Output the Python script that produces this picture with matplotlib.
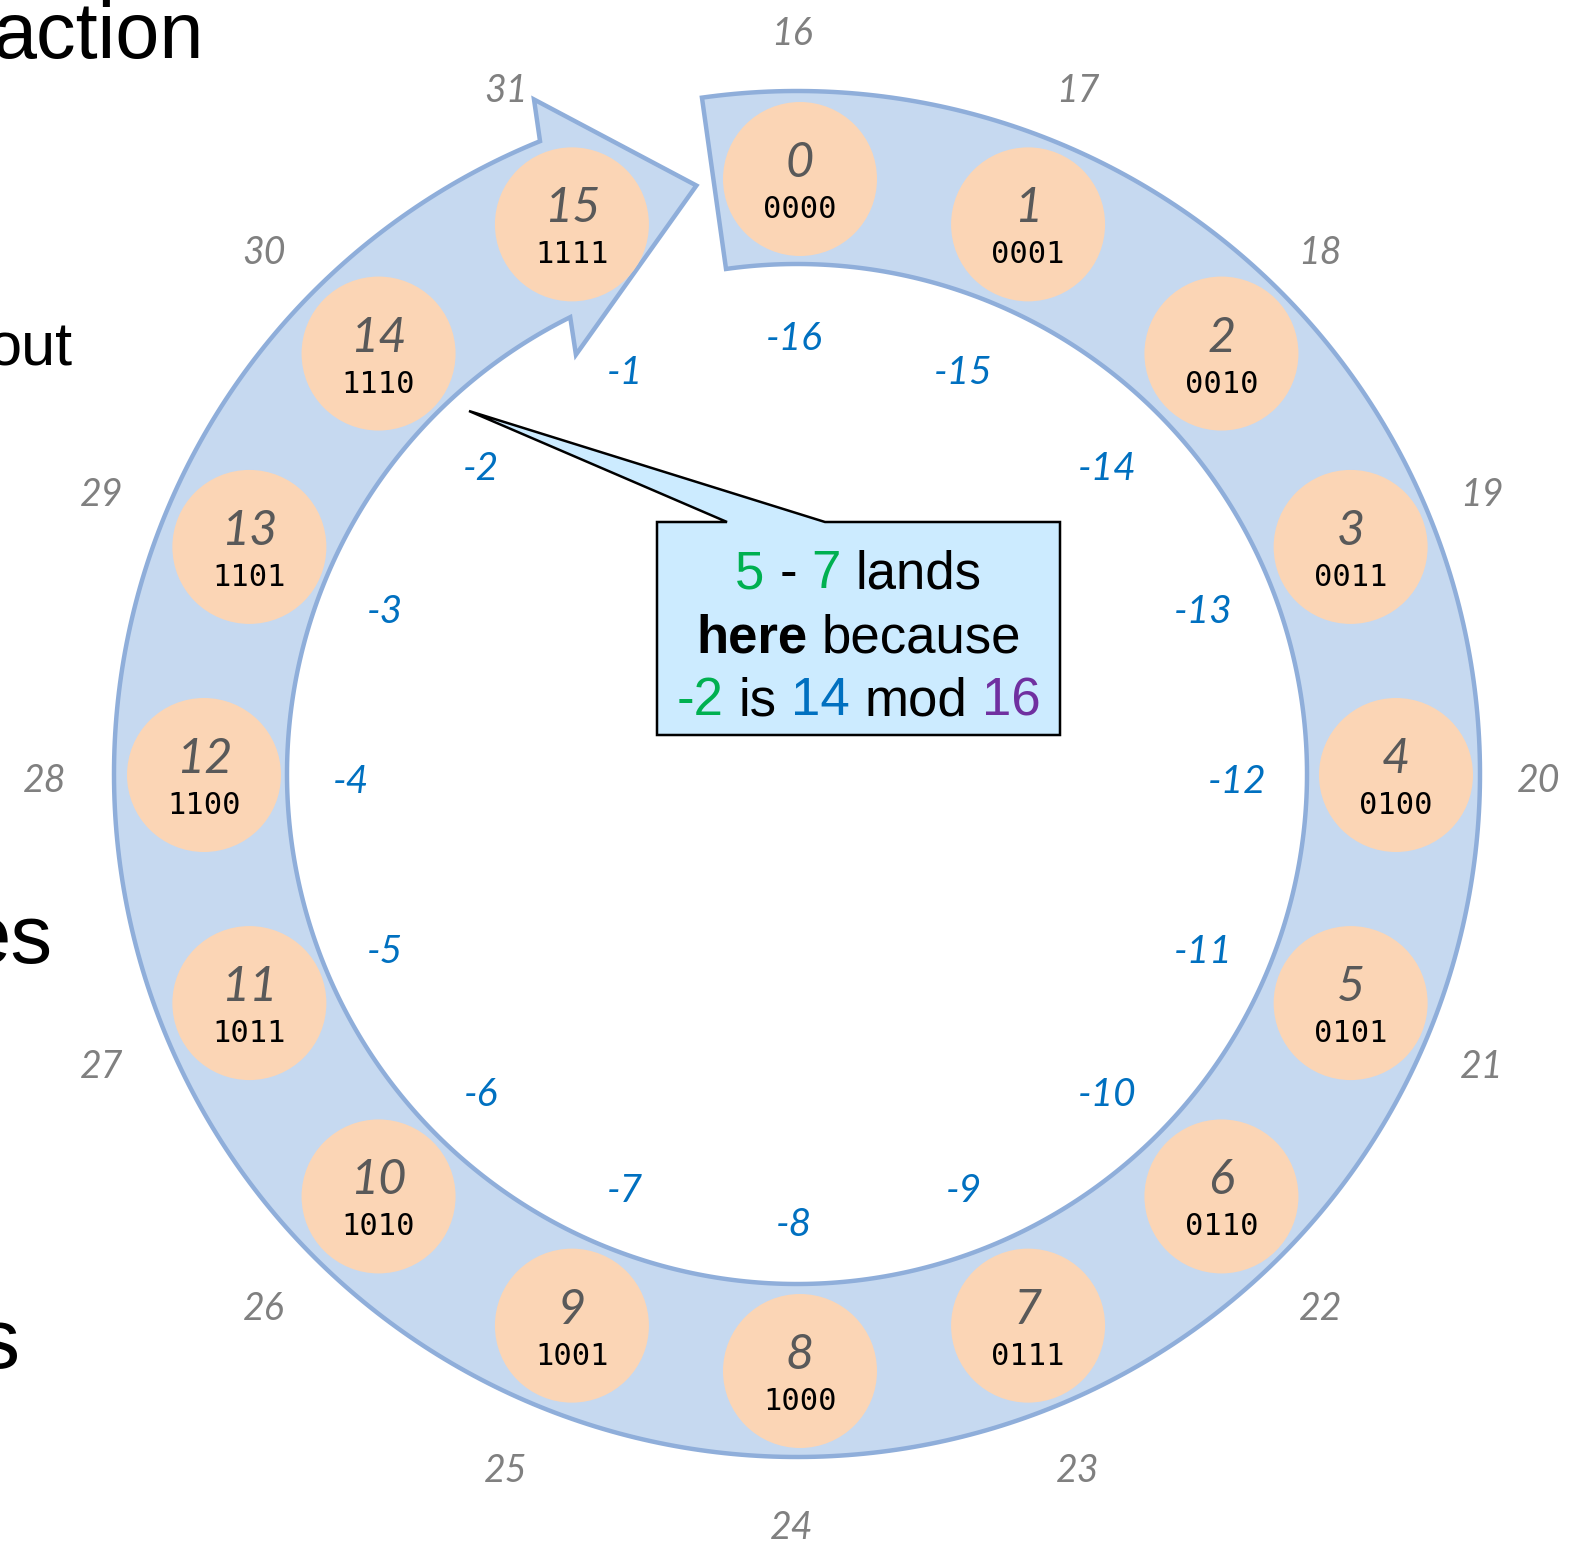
import numpy as np
import matplotlib.pyplot as plt
from matplotlib.patches import Polygon, Circle

# values on the wheel
values = ['0', '1', '2', '3', '4', '5', '6', '7',
          '8', '9', '10', '11', '12', '13', '14', '15']
binary = ['0000', '0001', '0010', '0011', '0100', '0101', '0110', '0111',
          '1000', '1001', '1010', '1011', '1100', '1101', '1110', '1111']
outer_labels = ['16', '17', '18', '19', '20', '21', '22', '23',
                '24', '25', '26', '27', '28', '29', '30', '31']
inner_labels = ['-16', '-15', '-14', '-13', '-12', '-11', '-10', '-9',
                '-8', '-7', '-6', '-5', '-4', '-3', '-2', '-1']

# callout text: (text, colour, weight)
GREEN, BLUE, PURPLE, BLACK = '#00B050', '#0070C0', '#7030A0', 'black'
callout_lines = [
    [('5', GREEN, 'normal'), ('-', BLACK, 'normal'), ('7', GREEN, 'normal'), ('lands', BLACK, 'normal')],
    [('here', BLACK, 'bold'), ('because', BLACK, 'normal')],
    [('-2', GREEN, 'normal'), ('is', BLACK, 'normal'), ('14', BLUE, 'normal'),
     ('mod', BLACK, 'normal'), ('16', PURPLE, 'normal')],
]

W, H = 1575, 1549
fig = plt.figure(figsize=(W / 100, H / 100), dpi=100)
ax = fig.add_axes([0, 0, 1, 1])
ax.set_xlim(0, W)
ax.set_ylim(H, 0)
ax.axis('off')


def pt(center, theta, r):
    t = np.radians(theta)
    return center[0] + r * np.sin(t), center[1] - r * np.cos(t)


# ring shaped arrow
ring_c = (797, 774)
R_out, R_in = 683, 510
tail = -8
outer = [pt(ring_c, t, R_out) for t in np.linspace(tail, 360 - 22.1, 500)]
head = [pt(ring_c, -21.3, 724), pt(ring_c, -9.7, 597), pt(ring_c, -27.8, 474)]
inner = [pt(ring_c, t, R_in) for t in np.linspace(360 - 26.4, tail, 500)]
ax.add_patch(Polygon(outer + head + inner, closed=True, fc='#C6D9F0', ec='#8FAEDA',
                     lw=3.2, joinstyle='miter', zorder=1))

circ_c = (800, 775)
out_c = (792, 779)
in_c = (794, 780)
step = 360 / len(values)
for i in range(len(values)):
    x, y = pt(circ_c, i * step, 596)
    ax.add_patch(Circle((x, y), 77, fc='#FBD5B5', ec='none', zorder=2))
    ax.text(x, y - 2, values[i], ha='center', va='baseline', fontsize=35,
            family='Lato', style='italic', color='#595959', zorder=3)
    ax.text(x, y + 39, binary[i], ha='center', va='baseline', fontsize=22,
            family='DejaVu Sans Mono', color='black', zorder=3)

    ox, oy = pt(out_c, i * step, 747)
    ax.text(ox, oy + 13, outer_labels[i], ha='center', va='baseline', fontsize=27,
            family='Lato', style='italic', color='#808080', zorder=3)
    ix, iy = pt(in_c, i * step, 443)
    ax.text(ix, iy + 13, inner_labels[i], ha='center', va='baseline', fontsize=28,
            family='Lato', style='italic', color=BLUE, zorder=3)

# callout box with pointer
bx0, by0, bx1, by1 = 657, 522, 1060, 735
callout = [(bx0, by0), (727, by0), (469, 411), (825, by0), (bx1, by0), (bx1, by1), (bx0, by1)]
ax.add_patch(Polygon(callout, closed=True, fc='#CCEBFF', ec='black', lw=1.8,
                     joinstyle='miter', zorder=5))

renderer = fig.canvas.get_renderer()


def measure(s, **kw):
    t = ax.text(0, 0, s, **kw)
    w = t.get_window_extent(renderer).width
    t.remove()
    return w


kw = dict(fontsize=38, family='Liberation Sans')
space = measure('a a', **kw) - measure('aa', **kw)
for line, yb in zip(callout_lines, [588, 652, 715]):
    widths = [measure(s, fontweight=w, **kw) for s, c, w in line]
    total = sum(widths) + space * (len(line) - 1)
    x = (bx0 + bx1) / 2 - total / 2
    for (s, c, w), wd in zip(line, widths):
        ax.text(x, yb, s, color=c, fontweight=w, ha='left', va='baseline', zorder=6, **kw)
        x += wd + space

# slide text cut off at the left edge
ax.text(204, 58, 'action', ha='right', va='baseline', fontsize=57, family='Liberation Sans')
ax.text(73, 365, 'out', ha='right', va='baseline', fontsize=44, family='Liberation Sans')
ax.text(53, 963, 'es', ha='right', va='baseline', fontsize=60, family='Liberation Sans')
ax.text(20, 1368, 's', ha='right', va='baseline', fontsize=62, family='Liberation Sans')

fig.savefig('out.png', dpi=100)
